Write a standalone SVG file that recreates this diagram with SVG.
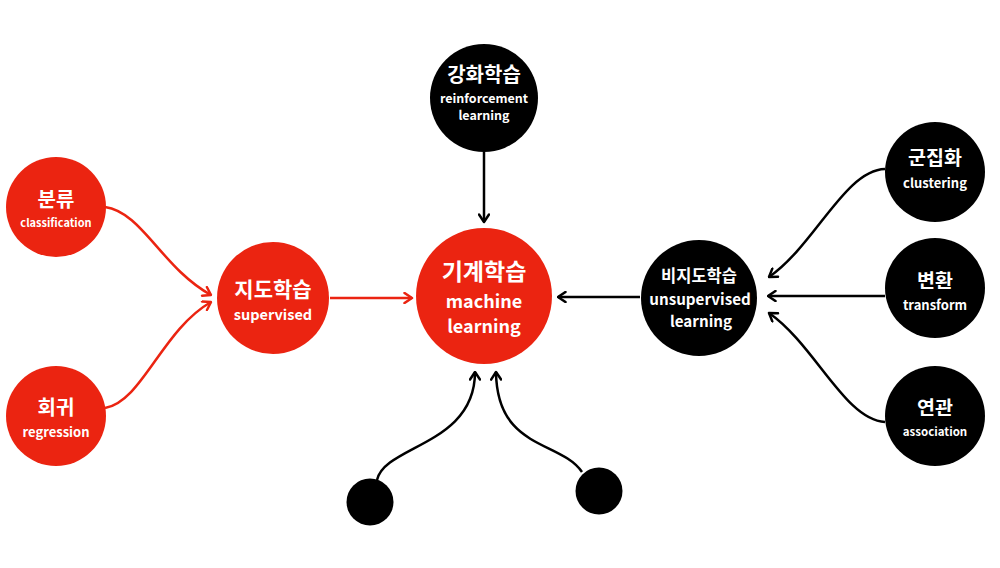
<svg xmlns="http://www.w3.org/2000/svg" width="1000" height="568" viewBox="0 0 1000 568">
<style>
.red{fill:#EB2411}
.blk{fill:#000}
text{font-family:"Noto Sans CJK KR","Noto Sans",sans-serif;font-weight:bold;fill:#fff;text-anchor:middle}
.lr{fill:none;stroke:#EB2411;stroke-width:2.5}
.lb{fill:none;stroke:#000;stroke-width:2.5}
</style>
<defs>
<marker id="ar" viewBox="0 0 12 12" refX="10.5" refY="6" markerWidth="12" markerHeight="12" markerUnits="userSpaceOnUse" orient="auto">
<path d="M3,1 L10.5,6 L3,11" fill="none" stroke="#EB2411" stroke-width="2.5" stroke-linecap="round" stroke-linejoin="round"/>
</marker>
<marker id="ab" viewBox="0 0 12 12" refX="10.5" refY="6" markerWidth="12" markerHeight="12" markerUnits="userSpaceOnUse" orient="auto">
<path d="M3,1 L10.5,6 L3,11" fill="none" stroke="#000" stroke-width="2.5" stroke-linecap="round" stroke-linejoin="round"/>
</marker>
</defs>
<rect width="1000" height="568" fill="#fff"/>
<g id="connectors">
<path class="lr" d="M105,207 C142,212 162,268 211,295" marker-end="url(#ar)"/>
<path class="lr" d="M105,408 C142,402 162,330 211,302" marker-end="url(#ar)"/>
<path class="lr" d="M330,298 L412,298" marker-end="url(#ar)"/>
<path class="lb" d="M484,152 L484,222" marker-end="url(#ab)"/>
<path class="lb" d="M640,297 L558,297" marker-end="url(#ab)"/>
<path class="lb" d="M885,169 C845,170 815,245 769,277" marker-end="url(#ab)"/>
<path class="lb" d="M885,296 L768,296" marker-end="url(#ab)"/>
<path class="lb" d="M885,422 C845,420 815,345 769,313" marker-end="url(#ab)"/>
<path class="lb" d="M377,480 C385,445 475,445 475,372" marker-end="url(#ab)"/>
<path class="lb" d="M582,472 C560,440 497,450 496,372" marker-end="url(#ab)"/>
</g>
<g id="n-classification">
<circle class="red" cx="56" cy="207" r="50"/>
<text x="56" y="207" font-size="20">분류</text>
<text x="56" y="227" font-size="11">classification</text>
</g>
<g id="n-regression">
<circle class="red" cx="56" cy="416" r="50"/>
<text x="56" y="415" font-size="20">회귀</text>
<text x="56" y="437" font-size="13">regression</text>
</g>
<g id="n-supervised">
<circle class="red" cx="273" cy="298" r="56"/>
<text x="273" y="297" font-size="21">지도학습</text>
<text x="273" y="320" font-size="14.5">supervised</text>
</g>
<g id="n-machine">
<circle class="red" cx="484" cy="296" r="68"/>
<text x="484" y="280" font-size="23">기계학습</text>
<text x="484" y="308" font-size="18">machine</text>
<text x="484" y="333" font-size="18">learning</text>
</g>
<g id="n-reinforcement">
<circle class="blk" cx="484" cy="98" r="54"/>
<text x="484" y="82" font-size="20">강화학습</text>
<text x="484" y="103" font-size="12.5">reinforcement</text>
<text x="484" y="120" font-size="12.5">learning</text>
</g>
<g id="n-unsupervised">
<circle class="blk" cx="699" cy="298" r="58"/>
<text x="699" y="282" font-size="16.5">비지도학습</text>
<text x="700" y="305" font-size="15.2">unsupervised</text>
<text x="701" y="327" font-size="15.2">learning</text>
</g>
<g id="n-clustering">
<circle class="blk" cx="935" cy="172" r="50"/>
<text x="935" y="165" font-size="19.5">군집화</text>
<text x="935" y="188" font-size="13">clustering</text>
</g>
<g id="n-transform">
<circle class="blk" cx="935" cy="288" r="50"/>
<text x="935" y="288" font-size="19.5">변환</text>
<text x="935" y="310" font-size="13">transform</text>
</g>
<g id="n-association">
<circle class="blk" cx="935" cy="416" r="50"/>
<text x="935" y="415" font-size="19.5">연관</text>
<text x="935" y="436" font-size="11.5">association</text>
</g>
<g id="n-dot1">
<circle class="blk" cx="370" cy="502" r="23.5"/>
</g>
<g id="n-dot2">
<circle class="blk" cx="599" cy="491" r="23.5"/>
</g>
</svg>
